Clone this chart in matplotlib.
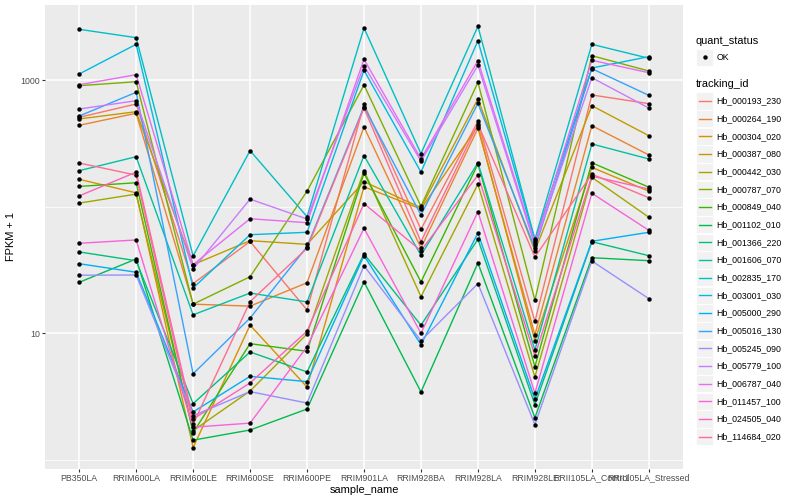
import matplotlib
matplotlib.use("Agg")
import matplotlib.pyplot as plt
from matplotlib.lines import Line2D
from matplotlib.patches import Rectangle
from matplotlib.ticker import FixedLocator, NullFormatter

plt.rcParams['font.family'] = ['Liberation Sans', 'DejaVu Sans']

# ---------------------------------------------
# DATA  (FPKM + 1, one list per tracking_id)
# ---------------------------------------------

sample_names = ["PB350LA", "RRIM600LA", "RRIM600LE", "RRIM600SE", "RRIM600PE",
                "RRIM901LA", "RRIM928BA", "RRIM928LA", "RRIM928LE",
                "RRII105LA_Control", "RRII105LA_Stressed"]

tracking_ids = ["Hb_000193_230", "Hb_000264_190", "Hb_000304_020", "Hb_000387_080",
                "Hb_000442_030", "Hb_000787_070", "Hb_000849_040", "Hb_001102_010",
                "Hb_001366_220", "Hb_001606_070", "Hb_002835_170", "Hb_003001_030",
                "Hb_005000_290", "Hb_005016_130", "Hb_005245_090", "Hb_005779_100",
                "Hb_006787_040", "Hb_011457_100", "Hb_024505_040", "Hb_114684_020"]

hb_000193_230 = [510, 650, 24.7, 53.2, 15.3, 646, 66.4, 474, 12.4, 766, 654]
hb_000264_190 = [441, 549, 17.0, 16.4, 25.1, 428, 47.3, 418, 9.75, 438, 257]
hb_000304_020 = [165, 129, 1.25, 11.6, 3.76, 144, 96.1, 436, 8.74, 205, 133]
hb_000387_080 = [495, 565, 34.9, 54.0, 50.5, 158, 98.4, 712, 44.8, 630, 365]
hb_000442_030 = [107, 126, 1.70, 3.50, 9.88, 193, 19.5, 151, 4.52, 171, 82.7]
hb_000787_070 = [907, 975, 17.0, 28.0, 133, 919, 101, 965, 18.3, 1566, 1185]
hb_000849_040 = [145, 155, 1.64, 8.28, 7.21, 184, 25.5, 218, 5.45, 223, 143]
hb_001102_010 = [25.3, 38.7, 1.43, 1.72, 2.52, 25.5, 3.44, 36.0, 2.15, 39.6, 37.5]
hb_001366_220 = [44.0, 37.5, 2.78, 7.12, 4.95, 42.4, 11.6, 55.4, 2.73, 53.0, 41.1]
hb_001606_070 = [193, 249, 14.0, 20.8, 17.7, 254, 41.4, 223, 7.38, 314, 239]
hb_002835_170 = [2532, 2173, 40.9, 278, 83.6, 2593, 263, 2674, 55.4, 1927, 1494]
hb_003001_030 = [1122, 1927, 22.8, 60.2, 62.9, 1200, 188, 2057, 54.0, 1252, 1538]
hb_005000_290 = [35.5, 30.4, 2.39, 4.57, 4.15, 41.1, 8.13, 62.1, 3.01, 53.4, 62.9]
hb_005016_130 = [522, 804, 4.79, 13.2, 48.4, 619, 86.2, 658, 47.0, 1236, 761]
hb_005245_090 = [28.8, 28.9, 2.23, 3.46, 2.81, 34.2, 8.74, 24.7, 1.90, 37.3, 18.8]
hb_005779_100 = [593, 690, 32.2, 115, 80.1, 1305, 230, 1315, 49.6, 1049, 604]
hb_006787_040 = [923, 1108, 34.9, 80.5, 74.9, 1467, 239, 1430, 51.5, 1440, 1149]
hb_011457_100 = [51.5, 54.7, 1.81, 1.95, 7.84, 67.7, 10.0, 91.5, 3.36, 128, 65.2]
hb_024505_040 = [122, 188, 2.10, 4.05, 10.4, 106, 45.0, 178, 6.65, 175, 138]
hb_114684_020 = [222, 178, 1.91, 17.8, 47.0, 604, 53.0, 451, 40.1, 181, 118]

series = [hb_000193_230, hb_000264_190, hb_000304_020, hb_000387_080,
          hb_000442_030, hb_000787_070, hb_000849_040, hb_001102_010,
          hb_001366_220, hb_001606_070, hb_002835_170, hb_003001_030,
          hb_005000_290, hb_005016_130, hb_005245_090, hb_005779_100,
          hb_006787_040, hb_011457_100, hb_024505_040, hb_114684_020]

# ggplot default hue palette for 20 levels
colors = ["#F8766D", "#EA8331", "#D89000", "#C09B00", "#A3A500", "#7CAE00",
          "#39B600", "#00BB4E", "#00BF7D", "#00C1A3", "#00BFC4", "#00BAE0",
          "#00B0F6", "#35A2FF", "#9590FF", "#C77CFF", "#E76BF3", "#FA62DB",
          "#FF62BC", "#FF6C91"]

# ---------------------------------------------
# PLOT
# ---------------------------------------------

W, H = 800, 500
fig = plt.figure(figsize=(8, 5), dpi=100)
ax = fig.add_axes([45 / W, 1 - 468.6 / H, (683 - 45) / W, (468.6 - 5.2) / H])

x = list(range(1, len(sample_names) + 1))
for vals, c in zip(series, colors):
    ax.plot(x, vals, color=c, lw=1.0, zorder=2)
for vals in series:
    ax.plot(x, vals, 'o', color='black', ms=3.2, mew=0, zorder=3)

ax.set_yscale('log')
ax.set_ylim(0.852, 3926)
ax.set_xlim(0.4, 11.6)
ax.set_xticks(x)
ax.set_xticklabels(sample_names)
ax.set_yticks([10, 1000])
ax.set_yticklabels(["10", "1000"])
ax.yaxis.set_minor_locator(FixedLocator([1, 100]))
ax.yaxis.set_minor_formatter(NullFormatter())
ax.tick_params(which='minor', length=0)
ax.tick_params(which='major', length=2.0, width=0.8, color='#333333',
               labelcolor='#4D4D4D', labelsize=6.34, pad=1.6)

ax.set_facecolor('#EBEBEB')
for s in ax.spines.values():
    s.set_visible(False)
ax.grid(which='major', color='white', lw=1.1)
ax.grid(which='minor', axis='y', color='white', lw=0.55)
ax.set_axisbelow(True)

ax.set_xlabel("sample_name", fontsize=7.92, labelpad=2)
ax.set_ylabel("FPKM + 1", fontsize=7.92, labelpad=3)

# ---------------------------------------------
# LEGEND (drawn by hand, ggplot style)
# ---------------------------------------------

def fx(px):
    return px / W

def fy(py):
    return 1 - py / H

key = 17.3
fig.text(fx(695.5), fy(40.7), "quant_status", fontsize=7.92, va='center', ha='left')
fig.add_artist(Rectangle((fx(696), fy(57.3 + key / 2)), key / W, key / H,
                         facecolor='#F2F2F2', edgecolor='white', lw=0.6,
                         transform=fig.transFigure))
fig.add_artist(Line2D([fx(704.6)], [fy(57.3)], marker='o', color='black', ms=3.2,
                      mew=0, transform=fig.transFigure))
fig.text(fx(716.5), fy(57.3), "OK", fontsize=6.34, va='center', ha='left')

fig.text(fx(695.5), fy(84.3), "tracking_id", fontsize=7.92, va='center', ha='left')
for i, (tid, c) in enumerate(zip(tracking_ids, colors)):
    cy = 101 + i * 17.67
    fig.add_artist(Rectangle((fx(696), fy(cy + key / 2)), key / W, key / H,
                             facecolor='#F2F2F2', edgecolor='white', lw=0.6,
                             transform=fig.transFigure))
    fig.add_artist(Line2D([fx(698.5), fx(711)], [fy(cy), fy(cy)], color=c, lw=1.0,
                          transform=fig.transFigure))
    fig.text(fx(716.5), fy(cy), tid, fontsize=6.34, va='center', ha='left')

fig.savefig("out.png", dpi=100)
